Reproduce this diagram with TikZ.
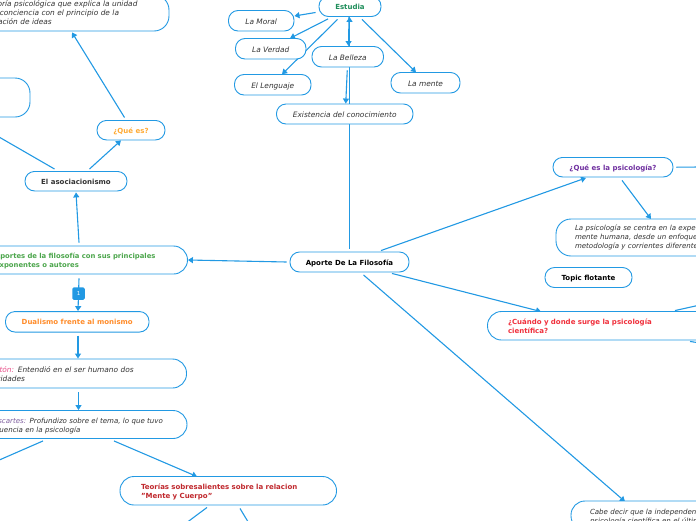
\documentclass[tikz,border=0pt]{standalone}
\usepackage{fontspec}
\setmainfont{DejaVu Sans}
\usetikzlibrary{arrows.meta}
\pgfdeclarelayer{back}
\pgfsetlayers{back,main}
\definecolor{lb}{HTML}{2299E3}
\definecolor{ink}{HTML}{333333}
\definecolor{cEst}{HTML}{1E8E5A}
\definecolor{cApo}{HTML}{4CA64C}
\definecolor{cQue}{HTML}{FFAA33}
\definecolor{cDua}{HTML}{FF8C2A}
\definecolor{cTeo}{HTML}{C0282D}
\definecolor{cCua}{HTML}{F0303C}
\definecolor{cPsi}{HTML}{7030A0}
\definecolor{cPla}{HTML}{E8508A}
\definecolor{cDes}{HTML}{8060A0}
\newcommand{\itf}{\fontsize{7.4}{9}\selectfont\itshape}
\newcommand{\itg}{\fontsize{7.05}{9}\selectfont\itshape}
\newcommand{\bdf}{\fontsize{7}{9}\selectfont\bfseries}
\tikzset{
  box/.style={draw=lb,line width=0.9pt,fill=white,rounded corners=9.5pt,inner ysep=0pt,font=\itf,text=ink},
  boldbox/.style={box,font=\bdf,align=center,inner xsep=0pt,text height=7.5pt,text depth=1.5pt},
  ital/.style={box,font=\itf,align=center,inner xsep=0pt,text height=8.5pt,text depth=1.5pt},
  para/.style={box,align=left,rounded corners=14pt,text height=7.5pt,text depth=10.5pt},
  triple/.style={para,text height=6pt,text depth=19.5pt,rounded corners=15pt},
  conn/.style={draw=lb,line width=1.1pt},
  arr/.style={conn,-{Triangle[length=5pt,width=6pt]}},
}
\begin{document}
\begin{tikzpicture}[x=1pt,y=-1pt]
\clip (0,0) rectangle (696,520);
% free ends
\coordinate (fA) at (-3,461);
\coordinate (fB) at (150,550);
\coordinate (fC) at (265,550);
\coordinate (fD) at (700,167);
\coordinate (fE) at (700,305);
\coordinate (fF) at (700,343);
% nodes
\node[triple,minimum width=217pt,minimum height=36pt,inner xsep=27pt,text width=163pt] (teoria) at (60.5,13) {La teoría psicológica que explica la unidad\\de la conciencia con el principio de la\\asociación de ideas};
\node[box,minimum width=100pt,minimum height=39pt,rounded corners=15pt] (vacio) at (-20,97.5) {};
\node[boldbox,text=cQue,minimum width=68pt,minimum height=19.5pt] (quees) at (131,130.2) {¿Qué es?};
\node[boldbox,text=ink,minimum width=102pt,minimum height=19.5pt] (asoc) at (76,181.2) {El asociacionismo};
\node[para,minimum width=218.5pt,minimum height=28pt,inner xsep=26pt,text width=166.5pt,font=\fontsize{6.85}{9}\selectfont\bfseries,text=cApo] (aportes) at (78.25,260) {Aportes de la filosofía con sus principales\\exponentes o autores};
\node[boldbox,text=cDua,minimum width=143.5pt,minimum height=20.5pt] (dual) at (77.25,321.8) {Dualismo frente al monismo};
\node[para,minimum width=219.5pt,minimum height=29pt,inner xsep=21.5pt,text width=176.5pt] (platon) at (76.75,373.5) {\textcolor{cPla}{Platón:} Entendió en el ser humano dos\\entidades};
\node[para,minimum width=220pt,minimum height=28pt,inner xsep=21.5pt,text width=177pt,font=\itg] (desc) at (77,424.5) {\textcolor{cDes}{Descartes:} Profundizo sobre el tema, lo que tuvo\\influencia en la psicología};
\node[para,minimum width=216.5pt,minimum height=28.5pt,inner xsep=21pt,text width=174.5pt,font=\bdf,text=cTeo] (teorias) at (228.25,490.75) {Teorías sobresalientes sobre la relacion\\"Mente y Cuerpo"};
\node[boldbox,text=black,minimum width=119pt,minimum height=20pt] (aporte) at (349.5,262) {Aporte De La Filosofía};
\node[boldbox,text=cEst,minimum width=62pt,minimum height=20pt] (estudia) at (350,6.5) {Estudia};
\node[ital,minimum width=65.5pt,minimum height=20.5pt] (moral) at (261.25,20.75) {La Moral};
\node[ital,minimum width=70.5pt,minimum height=20.5pt] (verdad) at (270.75,48.75) {La Verdad};
\node[ital,minimum width=76.5pt,minimum height=20.5pt] (lenguaje) at (272.75,84.75) {El Lenguaje};
\node[ital,minimum width=71.5pt,minimum height=20.5pt] (belleza) at (347.75,56.75) {La Belleza};
\node[ital,minimum width=69pt,minimum height=20.5pt] (mente) at (425.5,82.75) {La mente};
\node[ital,minimum width=136.5pt,minimum height=20pt,text height=7.5pt] (exist) at (344.75,114) {Existencia del conocimiento};
\node[boldbox,text=cPsi,minimum width=120pt,minimum height=19.5pt] (qpsi) at (613,167.2) {¿Qué es la psicología?};
\node[triple,minimum width=244pt,minimum height=37pt,inner xsep=19pt,text width=206pt,font=\itg] (lapsi) at (678,237.5) {La psicología se centra en la experiencia de la\\mente humana, desde un enfoque con su propia\\metodología y corrientes diferentes};
\node[boldbox,text=black,minimum width=87pt,minimum height=20pt] (topic) at (588.5,277.5) {Topic flotante};
\node[para,minimum width=232.5pt,minimum height=28.5pt,inner xsep=20.5pt,text width=191.5pt,font=\bdf,text=cCua] (cuando) at (603.75,325.75) {¿Cuándo y donde surge la psicología\\científica?};
\node[para,minimum width=229pt,minimum height=29pt,inner xsep=19pt,text width=191pt,font=\itg] (cabe) at (685.5,515.5) {Cabe decir que la independencia de la\\psicología científica en el último siglo};
\node[fill=lb,rounded corners=1.5pt,text=white,font=\fontsize{5.5}{6}\selectfont,minimum size=12.5pt,inner sep=0pt] (badge) at (78.5,293.5) {1};
% connectors behind nodes
\begin{pgfonlayer}{back}
\draw[arr] ([shift={(-6.5,-2.5)}]quees.north) -- ([shift={(11.5,1)}]teoria.south);
\draw[arr] ([shift={(13.5,-2)}]asoc.north) -- ([shift={(-10,0)}]quees.south);
\draw[conn] ([shift={(-21.5,-2)}]asoc.north) -- ([shift={(-14,0.5)}]vacio.south);
\draw[arr] ([shift={(0.75,-3)}]aportes.north) -- ([shift={(0,1)}]asoc.south);
\draw[arr] ([shift={(-3,0)}]aporte.west) -- (aportes.east);
\draw[arr] ([shift={(0.75,4)}]aportes.south) -- ([shift={(0.75,0)}]dual.north);
\draw[arr] ([shift={(0.75,3)}]dual.south) -- ([shift={(1.25,0)}]platon.north);
\draw[arr] ([shift={(1.75,4)}]platon.south) -- ([shift={(1.5,0)}]desc.north);
\draw[conn] ([shift={(-34,2)}]desc.south) -- (fA);
\draw[arr] ([shift={(37,2)}]desc.south) -- ([shift={(-31.25,0.5)}]teorias.north);
\draw[conn] ([shift={(-21.25,2)}]teorias.south) -- (fB);
\draw[conn] ([shift={(11.75,3)}]teorias.south) -- (fC);
\draw[arr] ([shift={(-3,6)}]estudia.west) -- ([shift={(0,-4.75)}]moral.east);
\draw[arr] ([shift={(-22,2)}]estudia.south) -- ([shift={(19.25,0.25)}]verdad.north);
\draw[arr] ([shift={(-12.5,2.5)}]estudia.south) -- ([shift={(9.25,0.25)}]lenguaje.north);
\draw[arr] ([shift={(12,2.5)}]estudia.south) -- ([shift={(-9.5,0.25)}]mente.north);
\draw[arr] ([shift={(0,-3)}]aporte.north) -- ([shift={(-0.5,0)}]estudia.south);
\draw[arr] ([shift={(-1,0)}]estudia.south) -- ([shift={(0.75,0)}]belleza.north);
\draw[arr] ([shift={(-0.5,3)}]belleza.south) -- ([shift={(1,0)}]exist.north);
\draw[arr] ([shift={(31.5,-1)}]aporte.north) -- ([shift={(-27,0.5)}]qpsi.south);
\draw[arr] ([shift={(9,3)}]qpsi.south) -- ([shift={(-27,0.5)}]lapsi.north);
\draw[conn] ([shift={(3,0)}]qpsi.east) -- (fD);
\draw[arr] ([shift={(42.5,1)}]aporte.south) -- ([shift={(-62.75,0.5)}]cuando.north);
\draw[arr] ([shift={(14,2.5)}]aporte.south) -- ([shift={(-60.5,1)}]cabe.north);
\draw[conn] ([shift={(71.25,-0.5)}]cuando.north) -- (fE);
\draw[conn] ([shift={(86.25,1)}]cuando.south) -- (fF);
\end{pgfonlayer}
\end{tikzpicture}
\end{document}
